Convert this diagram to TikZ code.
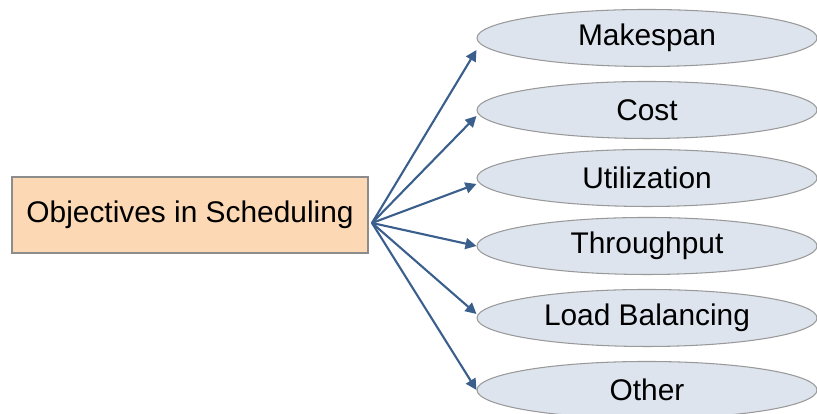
\documentclass[tikz,border=0pt]{standalone}
\usepackage{fontspec}
\setmainfont{Liberation Sans}
\usetikzlibrary{shapes.geometric,arrows.meta,positioning}
\definecolor{boxfill}{RGB}{252,217,180}
\definecolor{ovalfill}{RGB}{221,228,238}
\definecolor{linkblue}{RGB}{59,95,140}
\begin{document}
\begin{tikzpicture}[
  font=\fontsize{8.5}{10}\selectfont,
  rootbox/.style={draw=black!45,line width=0.35pt,fill=boxfill,minimum width=3.56cm,minimum height=0.76cm,inner sep=0pt},
  goal/.style={ellipse,draw=black!40,line width=0.3pt,fill=ovalfill,minimum width=3.40cm,minimum height=0.57cm,inner sep=0pt},
  link/.style={draw=linkblue,line width=0.6pt,-{Triangle[length=1.1mm,width=1.1mm]}},
  ]
  \useasboundingbox (0,0) rectangle (8.17,4.14);
  \node[rootbox] (obj) at (1.90,1.99) {Objectives in Scheduling};
  \coordinate (src) at (3.72,1.91);
  \node[goal] (mk) at (6.47,3.76) {Makespan};
  \node[goal] (cost) at (6.47,3.04) {Cost};
  \node[goal] (util) at (6.47,2.36) {Utilization};
  \node[goal] (thru) at (6.47,1.68) {Throughput};
  \node[goal] (lb) at (6.47,0.96) {Load Balancing};
  \node[goal] (oth) at (6.47,0.24) {Other};
  \draw[link] (src) -- ([yshift=-0.12cm]mk.west);
  \draw[link] (src) -- ([yshift=-0.06cm]cost.west);
  \draw[link] (src) -- ([yshift=-0.06cm]util.west);
  \draw[link] (src) -- (thru.west);
  \draw[link] (src) -- ([yshift=0.04cm]lb.west);
  \draw[link] (src) -- (oth.west);
\end{tikzpicture}
\end{document}
